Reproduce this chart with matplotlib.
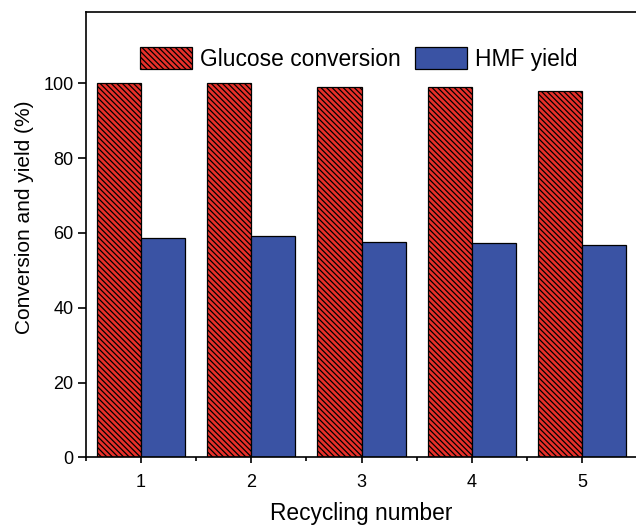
import numpy as np
import matplotlib.pyplot as plt
from matplotlib.ticker import MultipleLocator

plt.rcParams['font.family'] = ['Liberation Sans', 'DejaVu Sans']
plt.rcParams['hatch.linewidth'] = 0.9

cycles = [1, 2, 3, 4, 5]
glucose_conversion = [100, 100, 99, 99, 98]
hmf_yield = [58.6, 59.2, 57.6, 57.2, 56.8]

red = '#e8302a'
blue = '#3a53a4'

fig = plt.figure(figsize=(6.36, 5.25), dpi=100)
ax = fig.add_axes([86/636, (525-457.3)/525, (637-86)/636, (457.3-12.3)/525])

x = np.array(cycles)
w = 0.4
ax.bar(x - w/2, glucose_conversion, w, color=red, edgecolor='black', linewidth=0.9,
       hatch='\\\\\\\\\\\\', label='Glucose conversion')
ax.bar(x + w/2, hmf_yield, w, color=blue, edgecolor='black', linewidth=0.9,
       label='HMF yield')

ax.set_xlim(0.5, 5.5)
ax.set_ylim(0, 119)
ax.set_xticks(cycles)
ax.xaxis.set_minor_locator(MultipleLocator(0.5))
ax.set_yticks(range(0, 101, 20))

for s in ax.spines.values():
    s.set_linewidth(1.2)
ax.tick_params(axis='both', which='major', direction='out', labelsize=13, width=1.2)
ax.tick_params(axis='x', which='major', length=4, pad=8)
ax.tick_params(axis='y', which='major', length=6, pad=3)
ax.tick_params(axis='x', which='minor', length=3, width=1.2)

ax.set_xlabel('Recycling number', fontsize=16.4, labelpad=8)
ax.set_ylabel('Conversion and yield (%)', fontsize=15)
ax.yaxis.set_label_coords(-0.094, 0.54)

ax.legend(loc='upper center', bbox_to_anchor=(0.495, 0.968), ncol=2, frameon=False,
          fontsize=16.4, handlelength=2.3, handleheight=1.1, handletextpad=0.35,
          columnspacing=0.6)

fig.savefig('out.png', dpi=100)
